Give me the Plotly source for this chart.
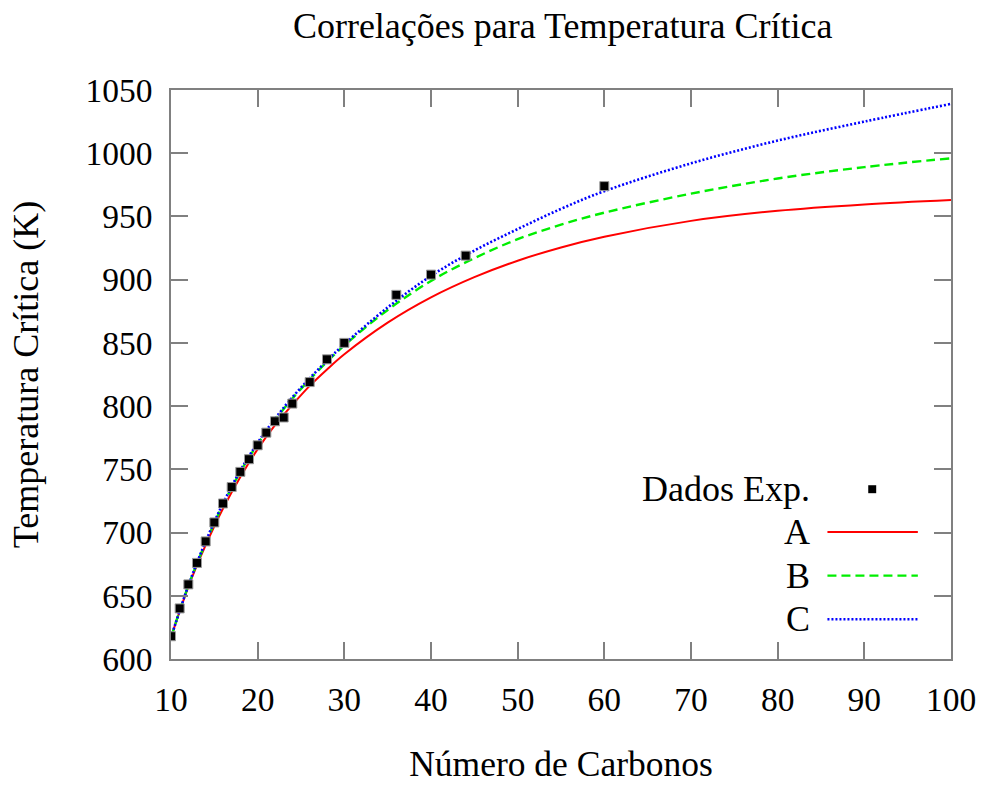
import plotly.graph_objects as go

# Experimental data
carbons_exp = [10, 11, 12, 13, 14, 15, 16, 17, 18, 19, 20, 21, 22, 23, 24, 26, 28, 30, 36, 40, 44, 60]
tc_exp = [618, 640, 659, 676, 693, 708, 723, 736, 748, 758, 769, 779, 788, 791, 802, 819, 837, 850, 888, 904, 919, 974]

# Correlation curves
carbons_curve = [10, 12, 14, 16, 18, 20, 22, 24, 26, 28, 30, 35, 40, 45, 50, 55, 60, 70, 80, 90, 100]
tc_a = [617, 657, 690, 719, 744, 766, 785, 801, 816, 829, 841, 866, 886, 902, 915, 925.5, 934, 946.5, 954.5, 959.5, 963]
tc_b = [617, 658, 692, 722, 748, 770, 789, 806, 821, 835, 848, 876, 899, 917, 932, 943.5, 953, 968, 980, 989, 996]
tc_c = [617, 658, 693, 723, 749, 771, 790, 807, 822, 836, 849, 878, 903, 923, 940, 956, 970, 992, 1010, 1025, 1039]

x_ticks = [10, 20, 30, 40, 50, 60, 70, 80, 90, 100]
y_ticks = [600, 650, 700, 750, 800, 850, 900, 950, 1000, 1050]

FONT = "Liberation Serif"

fig = go.Figure()
fig.add_trace(go.Scatter(x=carbons_curve, y=tc_a, mode="lines", name="A",
                         line=dict(color="#ff0000", width=2, shape="spline", smoothing=1)))
fig.add_trace(go.Scatter(x=carbons_curve, y=tc_b, mode="lines", name="B",
                         line=dict(color="#00ee00", width=2.4, dash="9px,5px", shape="spline", smoothing=1)))
fig.add_trace(go.Scatter(x=carbons_curve, y=tc_c, mode="lines", name="C",
                         line=dict(color="#0000ff", width=2.6, dash="2px,2px", shape="spline", smoothing=1)))
fig.add_trace(go.Scatter(x=carbons_exp, y=tc_exp, mode="markers", name="Dados Exp.",
                         marker=dict(symbol="square", size=9, color="black",
                                     line=dict(color="#999999", width=1))))

axis_common = dict(showgrid=False, zeroline=False, showline=True, linecolor="#808080",
                   linewidth=1.5, mirror="ticks", ticks="inside", ticklen=17,
                   tickcolor="#808080", tickwidth=1.5,
                   tickfont=dict(family=FONT, size=33.5, color="black"))

fig.update_xaxes(range=[10, 100], tickvals=x_ticks, ticktext=[str(v) for v in x_ticks],
                 title=dict(text="Número de Carbonos", font=dict(family=FONT, size=35.5, color="black"),
                            standoff=34),
                 ticklabelstandoff=10, **axis_common)
fig.update_yaxes(range=[600, 1050], tickvals=y_ticks, ticktext=[str(v) for v in y_ticks],
                 title=dict(text="Temperatura Crítica (K)", font=dict(family=FONT, size=36, color="black"),
                            standoff=36),
                 ticklabelstandoff=10, **axis_common)

# gnuplot-style legend: text right-aligned, sample on the right
legend_rows = [("Dados Exp.", 0.2984), ("A", 0.2234), ("B", 0.1466), ("C", 0.0698)]
annotations = []
for label, yp in legend_rows:
    annotations.append(dict(x=0.822, y=yp, xref="paper", yref="paper", text=label,
                            showarrow=False, xanchor="right", yanchor="middle",
                            font=dict(family=FONT, size=36, color="black")))
shapes = [
    dict(type="rect", xref="paper", yref="paper", x0=0.8939, x1=0.9041, y0=0.2914, y1=0.3054,
         fillcolor="black", line=dict(width=0)),
    dict(type="line", xref="paper", yref="paper", x0=0.8416, x1=0.9575, y0=0.2234, y1=0.2234,
         line=dict(color="#ff0000", width=2)),
    dict(type="line", xref="paper", yref="paper", x0=0.8416, x1=0.9575, y0=0.1466, y1=0.1466,
         line=dict(color="#00ee00", width=2.4, dash="9px,5px")),
    dict(type="line", xref="paper", yref="paper", x0=0.8416, x1=0.9575, y0=0.0698, y1=0.0698,
         line=dict(color="#0000ff", width=2.6, dash="2px,2px")),
]

fig.update_layout(
    width=988, height=789,
    margin=dict(l=171, r=34, t=90, b=126),
    paper_bgcolor="white", plot_bgcolor="white",
    showlegend=False,
    title=dict(text="Correlações para Temperatura Crítica", x=0.5695, xanchor="center",
               y=0.968, yanchor="middle", font=dict(family=FONT, size=36, color="black")),
    annotations=annotations, shapes=shapes,
)

fig.write_html("out.html")
